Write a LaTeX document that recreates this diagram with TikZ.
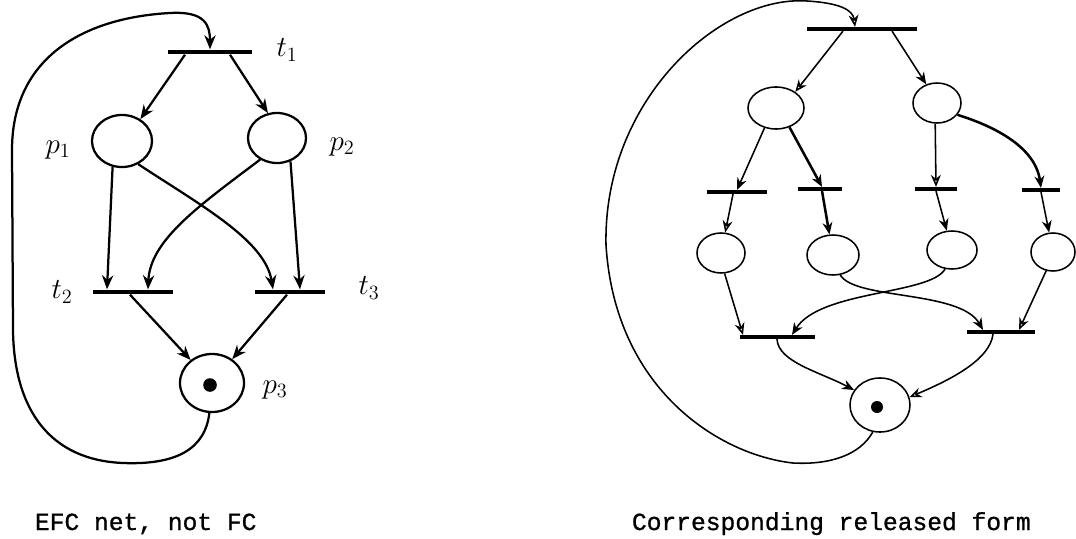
\documentclass[tikz,border=0pt]{standalone}
\usepackage{fontspec}
\newfontfamily\capfont[FakeBold=1]{Liberation Mono}
\usetikzlibrary{shapes.geometric,arrows.meta}

\begin{document}
\begin{tikzpicture}[
        x=0.025cm, y=-0.025cm,
        >={Stealth[length=10pt,width=8pt]},
        netplace/.style={ellipse, draw, line width=1.6pt, inner sep=0pt},
        rplace/.style={ellipse, draw, line width=1.1pt, inner sep=0pt},
        netbar/.style={rectangle, fill, inner sep=0pt, minimum height=0.12cm},
        rbar/.style={rectangle, fill, inner sep=0pt, minimum height=0.09cm},
        tok/.style={circle, fill, inner sep=0pt, minimum size=0.34cm},
        flow/.style={draw, ->, line width=1.6pt},
        oflow/.style={draw, -{Stealth[open,length=10pt,width=8pt]}, line width=1.6pt},
        rflow/.style={draw, -{Stealth[length=8.5pt,width=7pt]}, line width=1.1pt},
        roflow/.style={draw, -{Stealth[open,length=8.5pt,width=7pt]}, line width=1.1pt},
        lbl/.style={font=\fontsize{20}{22}\selectfont},
        capt/.style={anchor=base west, font=\capfont\fontsize{17.5}{20}\selectfont}
    ]
    \useasboundingbox (0,0) rectangle (1076,538);

    % ==========================================
    % 1. EFC net (left)
    % ==========================================
    \node[netbar, minimum width=2.1cm] (t1) at (210,52) {};
    \node[netplace, minimum width=1.5cm, minimum height=1.3cm] (p1) at (122,141) {};
    \node[netplace, minimum width=1.45cm, minimum height=1.25cm] (p2) at (277,138) {};
    \node[netbar, minimum width=2cm] (t2) at (133,292) {};
    \node[netbar, minimum width=1.75cm] (t3) at (290,292) {};
    \node[netplace, minimum width=1.6cm, minimum height=1.45cm] (p3) at (212,383) {};
    \node[tok] (k3) at (210,385) {};

    % labels
    \node[lbl] (lt1) at (287,50) {$t_1$};
    \node[lbl] (lp1) at (58,150) {$p_1$};
    \node[lbl] (lp2) at (342,147) {$p_2$};
    \node[lbl] (lt2) at (62,292) {$t_2$};
    \node[lbl] (lt3) at (369,288) {$t_3$};
    \node[lbl] (lp3) at (275,390) {$p_3$};

    % arcs
    \draw[flow] (p3.265) .. controls (205,450) and (175,465) .. (123,463)
        .. controls (50,460) and (14,410) .. (13,330) -- (12,150)
        .. controls (12,60) and (80,18) .. (170,13)
        .. controls (205,11) and (210,25) .. (t1.north);
    \draw[oflow] ([xshift=-0.625cm]t1.south) -- (p1.50);
    \draw[flow] ([xshift=0.5cm]t1.south) -- (p2.110);
    \draw[flow] (p1.250) -- ([xshift=-0.65cm]t2.north);
    \draw[oflow] (p1.305) .. controls (200,205) and (265,240) .. ([xshift=-0.425cm]t3.north);
    \draw[flow] (p2.232) .. controls (200,205) and (150,240) .. ([xshift=0.375cm]t2.north);
    \draw[flow] (p2.300) -- ([xshift=0.25cm]t3.north);
    \draw[flow] ([xshift=-0.075cm]t2.south) -- (p3);
    \draw[oflow] ([xshift=-0.075cm]t3.south) -- (p3);

    % ==========================================
    % 2. Released form (right)
    % ==========================================
    \node[rbar, minimum width=2.725cm] (rt1) at (862,29) {};
    \node[rplace, minimum width=1.4cm, minimum height=1.05cm] (rp1) at (776,108) {};
    \node[rplace, minimum width=1.2cm, minimum height=1cm] (rp2) at (937,103) {};
    \node[rbar, minimum width=1.5cm] (rs1) at (737,192) {};
    \node[rbar, minimum width=1.1cm] (rs2) at (820,189) {};
    \node[rbar, minimum width=1.05cm] (rs3) at (936,189) {};
    \node[rbar, minimum width=0.95cm] (rs4) at (1041,190) {};
    \node[rplace, minimum width=1.2cm, minimum height=1cm] (rc1) at (721,253) {};
    \node[rplace, minimum width=1.3cm, minimum height=1cm] (rc2) at (833,255) {};
    \node[rplace, minimum width=1.25cm, minimum height=0.95cm] (rc3) at (952,250) {};
    \node[rplace, minimum width=1.1cm, minimum height=0.95cm] (rc4) at (1053,252) {};
    \node[rbar, minimum width=1.875cm] (rt2) at (777,337) {};
    \node[rbar, minimum width=1.7cm] (rt3) at (1001,332) {};
    \node[rplace, minimum width=1.5cm, minimum height=1.35cm] (rp3) at (880,405) {};
    \node[tok, minimum size=0.3cm] (rk3) at (877,407) {};

    % arcs
    \draw[roflow] (rp3.255) .. controls (860,455) and (830,465) .. (793,463)
        .. controls (720,455) and (615,390) .. (606,245)
        .. controls (603,100) and (720,-5) .. (807,1)
        .. controls (840,3) and (853,10) .. ([xshift=-0.175cm]rt1.north);
    \draw[roflow] ([xshift=-0.475cm]rt1.south) -- (rp1.40);
    \draw[rflow] ([xshift=0.75cm]rt1.south) -- (rp2.120);
    \draw[rflow] (rp1.240) -- (rs1.north);
    \draw[rflow, line width=1.8pt] (rp1.305) -- ([xshift=0.05cm]rs2.north);
    \draw[roflow] (rp2.265) -- (rs3.north);
    \draw[rflow, line width=1.8pt] (rp2.330) .. controls (990,125) and (1035,145) .. (rs4.north);
    \draw[roflow] ([xshift=-0.1cm]rs1.south) -- (rc1);
    \draw[rflow, line width=1.8pt] ([xshift=0.05cm]rs2.south) -- (rc2);
    \draw[rflow] (rs3.south) -- (rc3);
    \draw[rflow] (rs4.south) -- (rc4);
    \draw[roflow] (rc1.280) -- ([xshift=-0.85cm]rt2.north);
    \draw[rflow] (rc3.250) .. controls (930,295) and (820,290) .. ([xshift=0.375cm]rt2.north);
    \draw[rflow] (rc2.290) .. controls (855,300) and (960,290) .. ([xshift=-0.45cm]rt3.north);
    \draw[roflow] (rc4.250) -- ([xshift=0.45cm]rt3.north);
    \draw[rflow] (rt2.south) .. controls (778,362) and (820,372) .. (rp3.150);
    \draw[roflow] ([xshift=-0.2cm]rt3.south) .. controls (990,360) and (950,380) .. (rp3.15);

    % ==========================================
    % 3. Captions
    % ==========================================
    \node[capt] (c1) at (30,530) {EFC net, not FC};
    \node[capt] (c2) at (627,530) {Corresponding released form};

\end{tikzpicture}
\end{document}
